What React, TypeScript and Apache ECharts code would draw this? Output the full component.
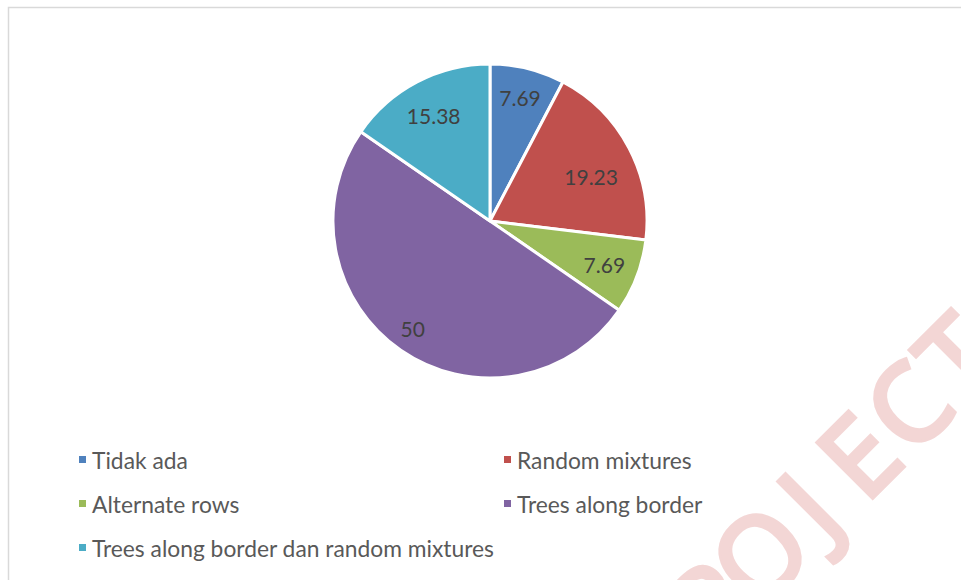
import React, { useEffect, useRef } from "react";
import * as echarts from "echarts";

const categories = [
  "Tidak ada",
  "Random mixtures",
  "Alternate rows",
  "Trees along border",
  "Trees along border dan random mixtures",
];
const values = [7.69, 19.23, 7.69, 50, 15.38];
const colors = ["#4f81bd", "#c0504d", "#9bbb59", "#8064a2", "#4bacc6"];
const legendLeftColumn = [categories[0], categories[2], categories[4]];
const legendRightColumn = [categories[1], categories[3]];

// small nudges for the value labels, per slice
const labelNudges = [
  [0, -2],
  [-10, 14],
  [-3, -1],
  [-6, 4],
  [2, 6],
];

const WATERMARK = "PROJECT";
const WATERMARK_PITCH = 70; // distance between letter centres along the slant

const FONT = "Lato, 'Open Sans', sans-serif";

export default function App() {
  const ref = useRef<HTMLDivElement>(null);

  useEffect(() => {
    if (!ref.current) return;
    const chart = echarts.init(ref.current, undefined, { renderer: "svg" });

    const slices = categories.map((name, i) => ({
      name,
      value: values[i],
      itemStyle: { color: colors[i] },
    }));

    const legendCommon = {
      orient: "vertical" as const,
      icon: "rect",
      itemWidth: 9,
      itemHeight: 9,
      itemGap: 17,
      itemTextGap: 8,
      textStyle: { fontFamily: FONT, fontSize: 22.8, color: "#595959", lineHeight: 27 },
      selectedMode: false,
    };

    // letter-spaced diagonal watermark, one text per letter inside a rotated group
    const watermarkLetters = WATERMARK.split("").map((ch, i) => ({
      type: "text",
      x: 5 + i * WATERMARK_PITCH,
      y: 0,
      style: {
        text: ch,
        fontSize: 108,
        fontWeight: "normal",
        fontFamily: "'Open Sans', sans-serif",
        fill: "#f3d6d5",
        stroke: "#f3d6d5",
        lineWidth: 5,
        align: "center",
        verticalAlign: "middle",
      },
      silent: true,
    }));

    chart.setOption({
      animation: false,
      backgroundColor: "#ffffff",
      legend: [
        { ...legendCommon, left: 72, top: 441, data: legendLeftColumn },
        { ...legendCommon, left: 497, top: 441, data: legendRightColumn },
      ],
      graphic: [
        {
          type: "rect",
          shape: { x: 8.5, y: 7.5, width: 1200, height: 900 },
          style: { fill: "none", stroke: "#d9d9d9", lineWidth: 1.5 },
          silent: true,
          z: 0,
        },
        {
          type: "group",
          x: 655.5,
          y: 655.5,
          rotation: Math.PI / 4,
          silent: true,
          z: 100,
          children: watermarkLetters,
        },
      ],
      series: [
        {
          type: "pie",
          center: [490, 221],
          radius: 157,
          startAngle: 90,
          clockwise: true,
          avoidLabelOverlap: false,
          label: { show: false },
          labelLine: { show: false },
          itemStyle: { borderColor: "#ffffff", borderWidth: 3 },
          data: slices,
          silent: true,
        },
        {
          // transparent ring that only carries the value labels
          type: "pie",
          center: [490, 221],
          radius: [88, 157],
          startAngle: 90,
          clockwise: true,
          avoidLabelOverlap: false,
          itemStyle: { color: "transparent" },
          label: {
            show: true,
            position: "inside",
            formatter: "{c}",
            fontFamily: FONT,
            fontSize: 21,
            color: "#404040",
          },
          labelLayout: (params: any) => {
            const n = labelNudges[params.dataIndex] || [0, 0];
            return { dx: n[0], dy: n[1] };
          },
          labelLine: { show: false },
          data: categories.map((name, i) => ({ name, value: values[i] })),
          silent: true,
        },
      ],
    });

    return () => chart.dispose();
  }, []);

  return (
    <div
      ref={ref}
      style={{ position: "fixed", left: 0, top: 0, width: 961, height: 580 }}
    />
  );
}
